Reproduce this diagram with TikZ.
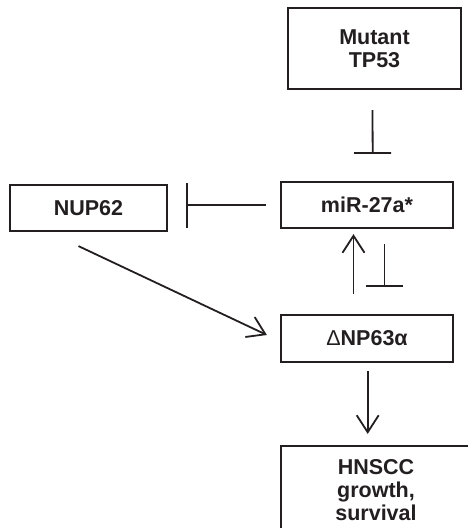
\documentclass[tikz,border=0pt]{standalone}
\usepackage{fontspec}
\setmainfont{Liberation Sans}
\usetikzlibrary{arrows.meta, positioning}
\definecolor{ink}{HTML}{231F20}

\begin{document}
\begin{tikzpicture}[x=1pt,y=-1pt,
		font=\fontsize{21.5}{23}\selectfont\bfseries,
		color=ink,
		genebox/.style={draw, line width=2.2pt, align=center, inner sep=0pt},
		act/.style={-{Straight Barb[length=17pt,width=22pt]}, line width=1.8pt},
		inhibit/.style={-{Bar[width=37pt]}, line width=1.8pt}]
		
		\useasboundingbox (0,0) rectangle (468,528);
		
		\node (mutant) 
			[genebox, minimum width=173pt, minimum height=81pt] at (374.5,48.5) {Mutant\\TP53};
		\node (mir) 
			[genebox, minimum width=172pt, minimum height=46pt] at (367,205) {miR-27a*};
		\node (nup) 
			[genebox, minimum width=157pt, minimum height=46pt] at (88.5,208) {NUP62};
		\node (dnp) 
			[genebox, minimum width=172pt, minimum height=47pt] at (367,338.5) {{\mdseries Δ}NP63α};
		\node (hnscc) 
			[genebox, minimum width=190pt, minimum height=89pt] at (376,490.5) {HNSCC\\growth,\\survival};
		
		% inhibition
		\draw [inhibit] ([xshift=-2pt,yshift=-20pt]mutant.south) -- ([xshift=5.7pt,yshift=27pt]mir.north);
		\draw [inhibit, -{Bar[width=45pt]}] ([xshift=-14pt]mir.west) -- ([xshift=18pt,yshift=3pt]nup.east);
		\draw [inhibit] ([xshift=17.5pt,yshift=-15pt]mir.south) -- ([xshift=17.5pt,yshift=27pt]dnp.north);
		
		% activation
		\draw [act] ([xshift=-10pt,yshift=-14pt]nup.south) -- ([xshift=-13pt,yshift=3.5pt]dnp.west);
		\draw [act] ([xshift=-13.5pt,yshift=20pt]dnp.north) -- ([xshift=-13.5pt,yshift=-5pt]mir.south);
		\draw [act] ([xshift=0.7pt,yshift=-8pt]dnp.south) -- ([xshift=-8.3pt,yshift=11pt]hnscc.north);
		
	\end{tikzpicture}
\end{document}
